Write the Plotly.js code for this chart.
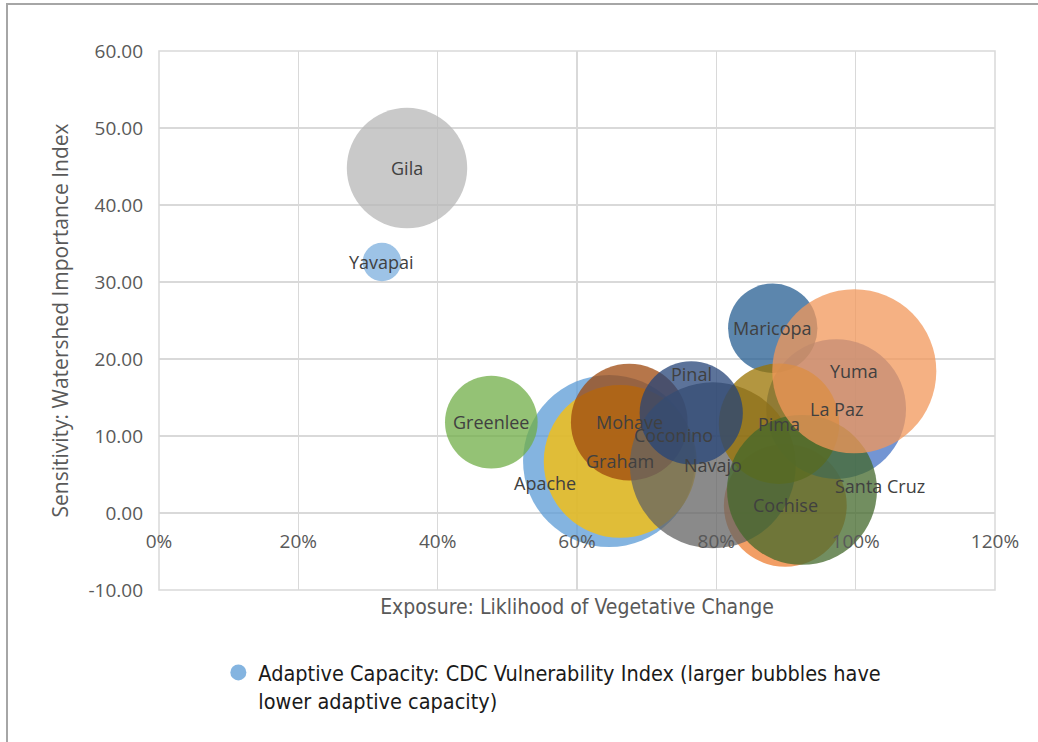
<!DOCTYPE html>
<html>
<head>
<meta charset="utf-8">
<script src="https://cdn.plot.ly/plotly-3.0.1.min.js"></script>
<style>
  html, body { margin: 0; padding: 0; background: #ffffff; }
  #chart { position: absolute; left: 0; top: 0; width: 1038px; height: 742px; }
  #frame { position: absolute; left: 6px; top: 3px; right: 0; bottom: 0;
           border-left: 2px solid #A6A6A6; border-top: 2px solid #A6A6A6;
           pointer-events: none; }
</style>
</head>
<body>
<div id="chart"></div>
<div id="frame"></div>
<script>
// ---- data (drawing order = Excel point order) ----
const counties = ["Apache", "Cochise", "Coconino", "Graham", "La Paz", "Greenlee", "Maricopa",
                  "Mohave", "Navajo", "Pima", "Pinal", "Santa Cruz", "Yavapai", "Yuma", "Gila"];
// Exposure: likelihood of vegetative change (fraction)
const exposure = [0.646, 0.899, 0.738, 0.662, 0.972, 0.477, 0.881,
                  0.675, 0.795, 0.890, 0.764, 0.923, 0.320, 0.998, 0.356];
// Sensitivity: watershed importance index
const sensitivity = [6.75, 1.0, 10.1, 6.7, 13.5, 11.8, 24.0,
                     11.8, 6.2, 11.6, 13.0, 3.0, 32.6, 18.4, 44.8];
// Adaptive capacity: CDC vulnerability index (bubble size)
const vulnerability = [100, 51, 0, 79, 66, 29, 27,
                       46, 93, 49, 36, 76, 5, 91, 49];

// tick values / labels
const xTickVals = [0, 0.2, 0.4, 0.6, 0.8, 1.0, 1.2];
const xTickText = ["0%", "20%", "40%", "60%", "80%", "100%", "120%"];
const yTickVals = [-10, 0, 10, 20, 30, 40, 50, 60];
const yTickText = ["-10.00", "0.00", "10.00", "20.00", "30.00", "40.00", "50.00", "60.00"];

// ---- styles ----
const bubbleColors = ["#5B9BD5", "#ED7D31", "#A5A5A5", "#FFC000", "#4472C4", "#70AD47", "#255E91",
                      "#9E480E", "#636363", "#997300", "#264478", "#43682B", "#7CAFDD", "#F1975A", "#B7B7B7"];
const labelShift = { "Pinal": [0, 39], "Apache": [-64, -22], "Santa Cruz": [78, 4] };
const MAX_RADIUS_PX = 86;
const xRange = [0, 1.2];
const yRange = [-10, 60];
const axisGrey = "#595959";
const gridGrey = "#D9D9D9";
const tickFont = { family: "Open Sans, Noto Sans, sans-serif", size: 19, color: axisGrey };
const narrowFamily = "Liberation Sans Narrow, DejaVu Sans Condensed, sans-serif";

const maxV = Math.max.apply(null, vulnerability);
const sizeref = maxV / (2 * MAX_RADIUS_PX * MAX_RADIUS_PX);

const trace = {
  type: "scatter",
  mode: "markers",
  x: exposure,
  y: sensitivity,
  text: counties,
  name: "Adaptive Capacity: CDC Vulnerability Index (larger bubbles have<br>lower adaptive capacity)",
  marker: {
    size: vulnerability,
    sizemode: "area",
    sizeref: sizeref,
    color: bubbleColors,
    opacity: 0.75,
    line: { width: 0 }
  },
  hovertemplate: "%{text}<extra></extra>"
};

const annotations = counties.map(function (c, i) {
  const s = labelShift[c] || [0, 0];
  return {
    x: exposure[i], y: sensitivity[i], xref: "x", yref: "y",
    text: c, showarrow: false, xshift: s[0], yshift: s[1],
    font: { family: "Open Sans, Noto Sans, sans-serif", size: 18, color: "#404040" }
  };
});

const layout = {
  width: 1038, height: 742,
  margin: { l: 159, r: 43, t: 51, b: 152 },
  paper_bgcolor: "#ffffff",
  plot_bgcolor: "#ffffff",
  showlegend: true,
  legend: {
    x: 0.071, y: -0.115, xanchor: "left", yanchor: "top",
    valign: "top",
    bgcolor: "rgba(0,0,0,0)",
    font: { family: narrowFamily, size: 21.5, color: "#1a1a1a" }
  },
  xaxis: {
    range: xRange, tickmode: "array", tickvals: xTickVals, ticktext: xTickText,
    anchor: "free",
    position: (0 - yRange[0]) / (yRange[1] - yRange[0]),
    showgrid: true, gridcolor: gridGrey, gridwidth: 1.5,
    zeroline: false, showline: false, ticks: "",
    ticklabelstandoff: 15,
    tickfont: tickFont,
    title: { text: "Exposure: Liklihood of Vegetative Change", standoff: 46,
             font: { family: narrowFamily, size: 21, color: axisGrey } }
  },
  yaxis: {
    range: yRange, tickmode: "array", tickvals: yTickVals, ticktext: yTickText,
    showgrid: true, gridcolor: gridGrey, gridwidth: 1.5,
    zeroline: false, showline: false, ticks: "",
    ticklabelstandoff: 15,
    tickfont: tickFont,
    title: { text: "Sensitivity: Watershed Importance Index", standoff: 14,
             font: { family: "Open Sans, Noto Sans, sans-serif", size: 21, color: axisGrey } }
  },
  shapes: [{
    type: "rect", xref: "paper", yref: "paper", x0: 0, x1: 1, y0: 0, y1: 1,
    line: { color: gridGrey, width: 1.5 }, layer: "below"
  }],
  annotations: annotations
};

Plotly.newPlot("chart", [trace], layout, { displayModeBar: false, staticPlot: true });
</script>
</body>
</html>
